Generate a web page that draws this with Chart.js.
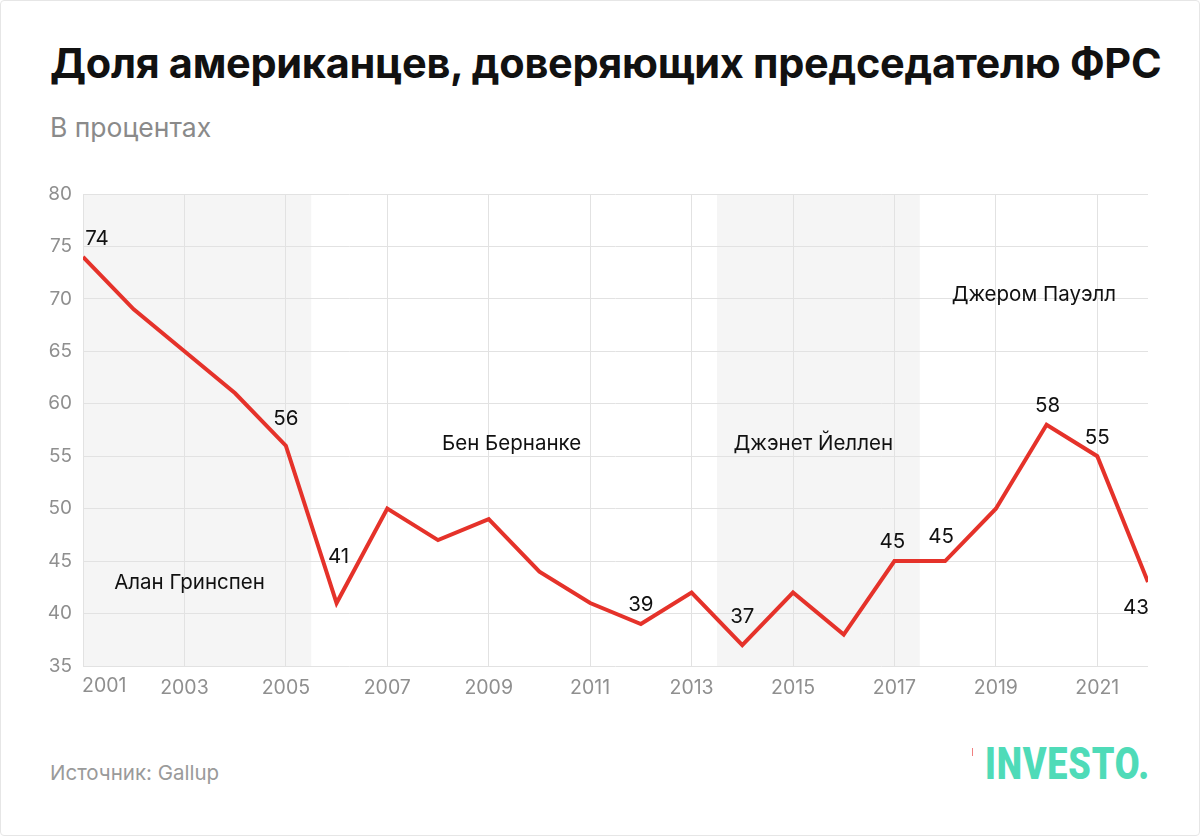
<!DOCTYPE html>
<html>
<head>
<meta charset="utf-8">
<script src="https://cdn.jsdelivr.net/npm/chart.js@4"></script>
<style>
  html, body { margin: 0; padding: 0; background: #fff; }
  body { width: 1200px; height: 836px; position: relative; overflow: hidden; font-family: Inter, "Noto Sans", sans-serif; }
  .frame { position: absolute; left: 0; top: 0; width: 1198px; height: 834px; border: 1px solid #e6e6e6; border-radius: 4px; }
  h1 { position: absolute; left: 50px; top: 38px; margin: 0; font-size: 41.5px; font-weight: 700; color: #111; letter-spacing: -0.3px; white-space: nowrap; }
  .sub { position: absolute; left: 50px; top: 111px; font-size: 26.5px; color: #8a8a8a; }
  .src { position: absolute; left: 50px; top: 760px; font-size: 20.5px; color: #9a9a9a; }
  .logo { position: absolute; left: 985px; top: 737px; font-size: 45px; font-weight: 900; color: #4fdbb8; letter-spacing: 1px; font-family: Roboto, Inter, sans-serif; transform: scaleX(0.8); transform-origin: left top; }
  .mark { position: absolute; left: 972px; top: 748px; width: 1px; height: 8px; background: #f08080; }
  #wrap { position: absolute; left: 0; top: 170px; width: 1200px; height: 540px; }
</style>
</head>
<body>
<div class="frame"></div>
<h1>Доля американцев, доверяющих председателю ФРС</h1>
<div class="sub">В процентах</div>
<div id="wrap"><canvas id="fedChart" width="1200" height="540"></canvas></div>
<div class="src">Источник: Gallup</div>
<div class="mark"></div>
<div class="logo">INVESTO.</div>
<script>
var years = [2001, 2002, 2003, 2004, 2005, 2006, 2007, 2008, 2009, 2010, 2011, 2012, 2013, 2014, 2015, 2016, 2017, 2018, 2019, 2020, 2021, 2022];
var trust = [74, 69, 65, 61, 56, 41, 50, 47, 49, 44, 41, 39, 42, 37, 42, 38, 45, 45, 50, 58, 55, 43];
var xTicks = [2001, 2003, 2005, 2007, 2009, 2011, 2013, 2015, 2017, 2019, 2021];
var yTicks = [35, 40, 45, 50, 55, 60, 65, 70, 75, 80];
// which points get a number
var labelYears = [2001, 2005, 2006, 2012, 2014, 2017, 2018, 2020, 2021, 2022];
// terms of the chairs (shaded spans) and their names
var chairSpans = [[2001, 2005.5], [2013.5, 2017.5]];
var chairNames = ['Алан Гринспен', 'Бен Бернанке', 'Джэнет Йеллен', 'Джером Пауэлл'];
var chairNameAt = [[2003.1, 42.9], [2009.45, 56.2], [2015.4, 56.2], [2019.75, 70.4]];

// pixel nudges for the point numbers, same order as labelYears
var labelNudge = [[14, -18], [0, -27], [2, -46], [0, -19], [0, -28], [-2, -19], [-4, -24], [1, -19], [0, -18], [-12, 26]];

var points = years.map(function (y, i) { return { x: y, y: trust[i] }; });
var FONT = 'Inter, "Noto Sans", sans-serif';

var bandsPlugin = {
    id: 'bands',
    beforeDraw: function (chart) {
        var ctx = chart.ctx, xs = chart.scales.x, a = chart.chartArea;
        ctx.save();
        ctx.fillStyle = '#f5f5f5';
        chairSpans.forEach(function (s) {
            var x0 = xs.getPixelForValue(s[0]), x1 = xs.getPixelForValue(s[1]);
            ctx.fillRect(x0, a.top, x1 - x0, a.bottom - a.top);
        });
        ctx.restore();
    }
};

var textPlugin = {
    id: 'texts',
    afterDraw: function (chart) {
        var ctx = chart.ctx, xs = chart.scales.x, ys = chart.scales.y;
        ctx.save();
        // first year label sits left-aligned on the axis start
        ctx.fillStyle = '#8f8f8f';
        ctx.font = '19.5px ' + FONT;
        ctx.textAlign = 'left';
        ctx.textBaseline = 'top';
        ctx.fillText(String(xTicks[0]), xs.getPixelForValue(xTicks[0]) - 1, chart.chartArea.bottom + 10);

        ctx.fillStyle = '#111';
        ctx.font = '20.5px ' + FONT;
        ctx.textAlign = 'center';
        ctx.textBaseline = 'middle';
        chairNames.forEach(function (n, i) {
            ctx.fillText(n, xs.getPixelForValue(chairNameAt[i][0]), ys.getPixelForValue(chairNameAt[i][1]));
        });
        labelYears.forEach(function (yr, i) {
            var k = years.indexOf(yr);
            var px = xs.getPixelForValue(yr), py = ys.getPixelForValue(trust[k]);
            ctx.fillText(trust[k], px + labelNudge[i][0], py + labelNudge[i][1]);
        });
        ctx.restore();
    }
};

new Chart(document.getElementById('fedChart').getContext('2d'), {
    type: 'line',
    data: {
        datasets: [{
            data: points,
            borderColor: '#e5322a',
            borderWidth: 4,
            pointRadius: 0,
            tension: 0,
            borderJoinStyle: 'miter'
        }]
    },
    options: {
        responsive: false,
        animation: false,
        layout: { padding: { left: 0, right: 52, top: 24, bottom: 0 } },
        plugins: { legend: { display: false }, tooltip: { enabled: false } },
        scales: {
            x: {
                type: 'linear',
                min: 2001,
                max: 2022,
                afterBuildTicks: function (axis) {
                    axis.ticks = xTicks.map(function (v) { return { value: v }; });
                },
                afterFit: function (axis) { axis.height = 44; },
                border: { display: false },
                grid: { color: '#e2e2e2', lineWidth: 1, drawTicks: false },
                ticks: {
                    color: '#8f8f8f',
                    font: { family: FONT, size: 19.5 },
                    padding: 10,
                    maxRotation: 0,
                    autoSkip: false,
                    callback: function (v) { return v === xTicks[0] ? '' : String(v); }
                }
            },
            y: {
                min: 35,
                max: 80,
                afterBuildTicks: function (axis) {
                    axis.ticks = yTicks.map(function (v) { return { value: v }; });
                },
                afterFit: function (axis) { axis.width = 83; },
                border: { display: false },
                grid: { color: '#e2e2e2', lineWidth: 1, drawTicks: false },
                ticks: {
                    color: '#8f8f8f',
                    font: { family: FONT, size: 19 },
                    padding: 11
                }
            }
        }
    },
    plugins: [bandsPlugin, textPlugin]
});
</script>
</body>
</html>
